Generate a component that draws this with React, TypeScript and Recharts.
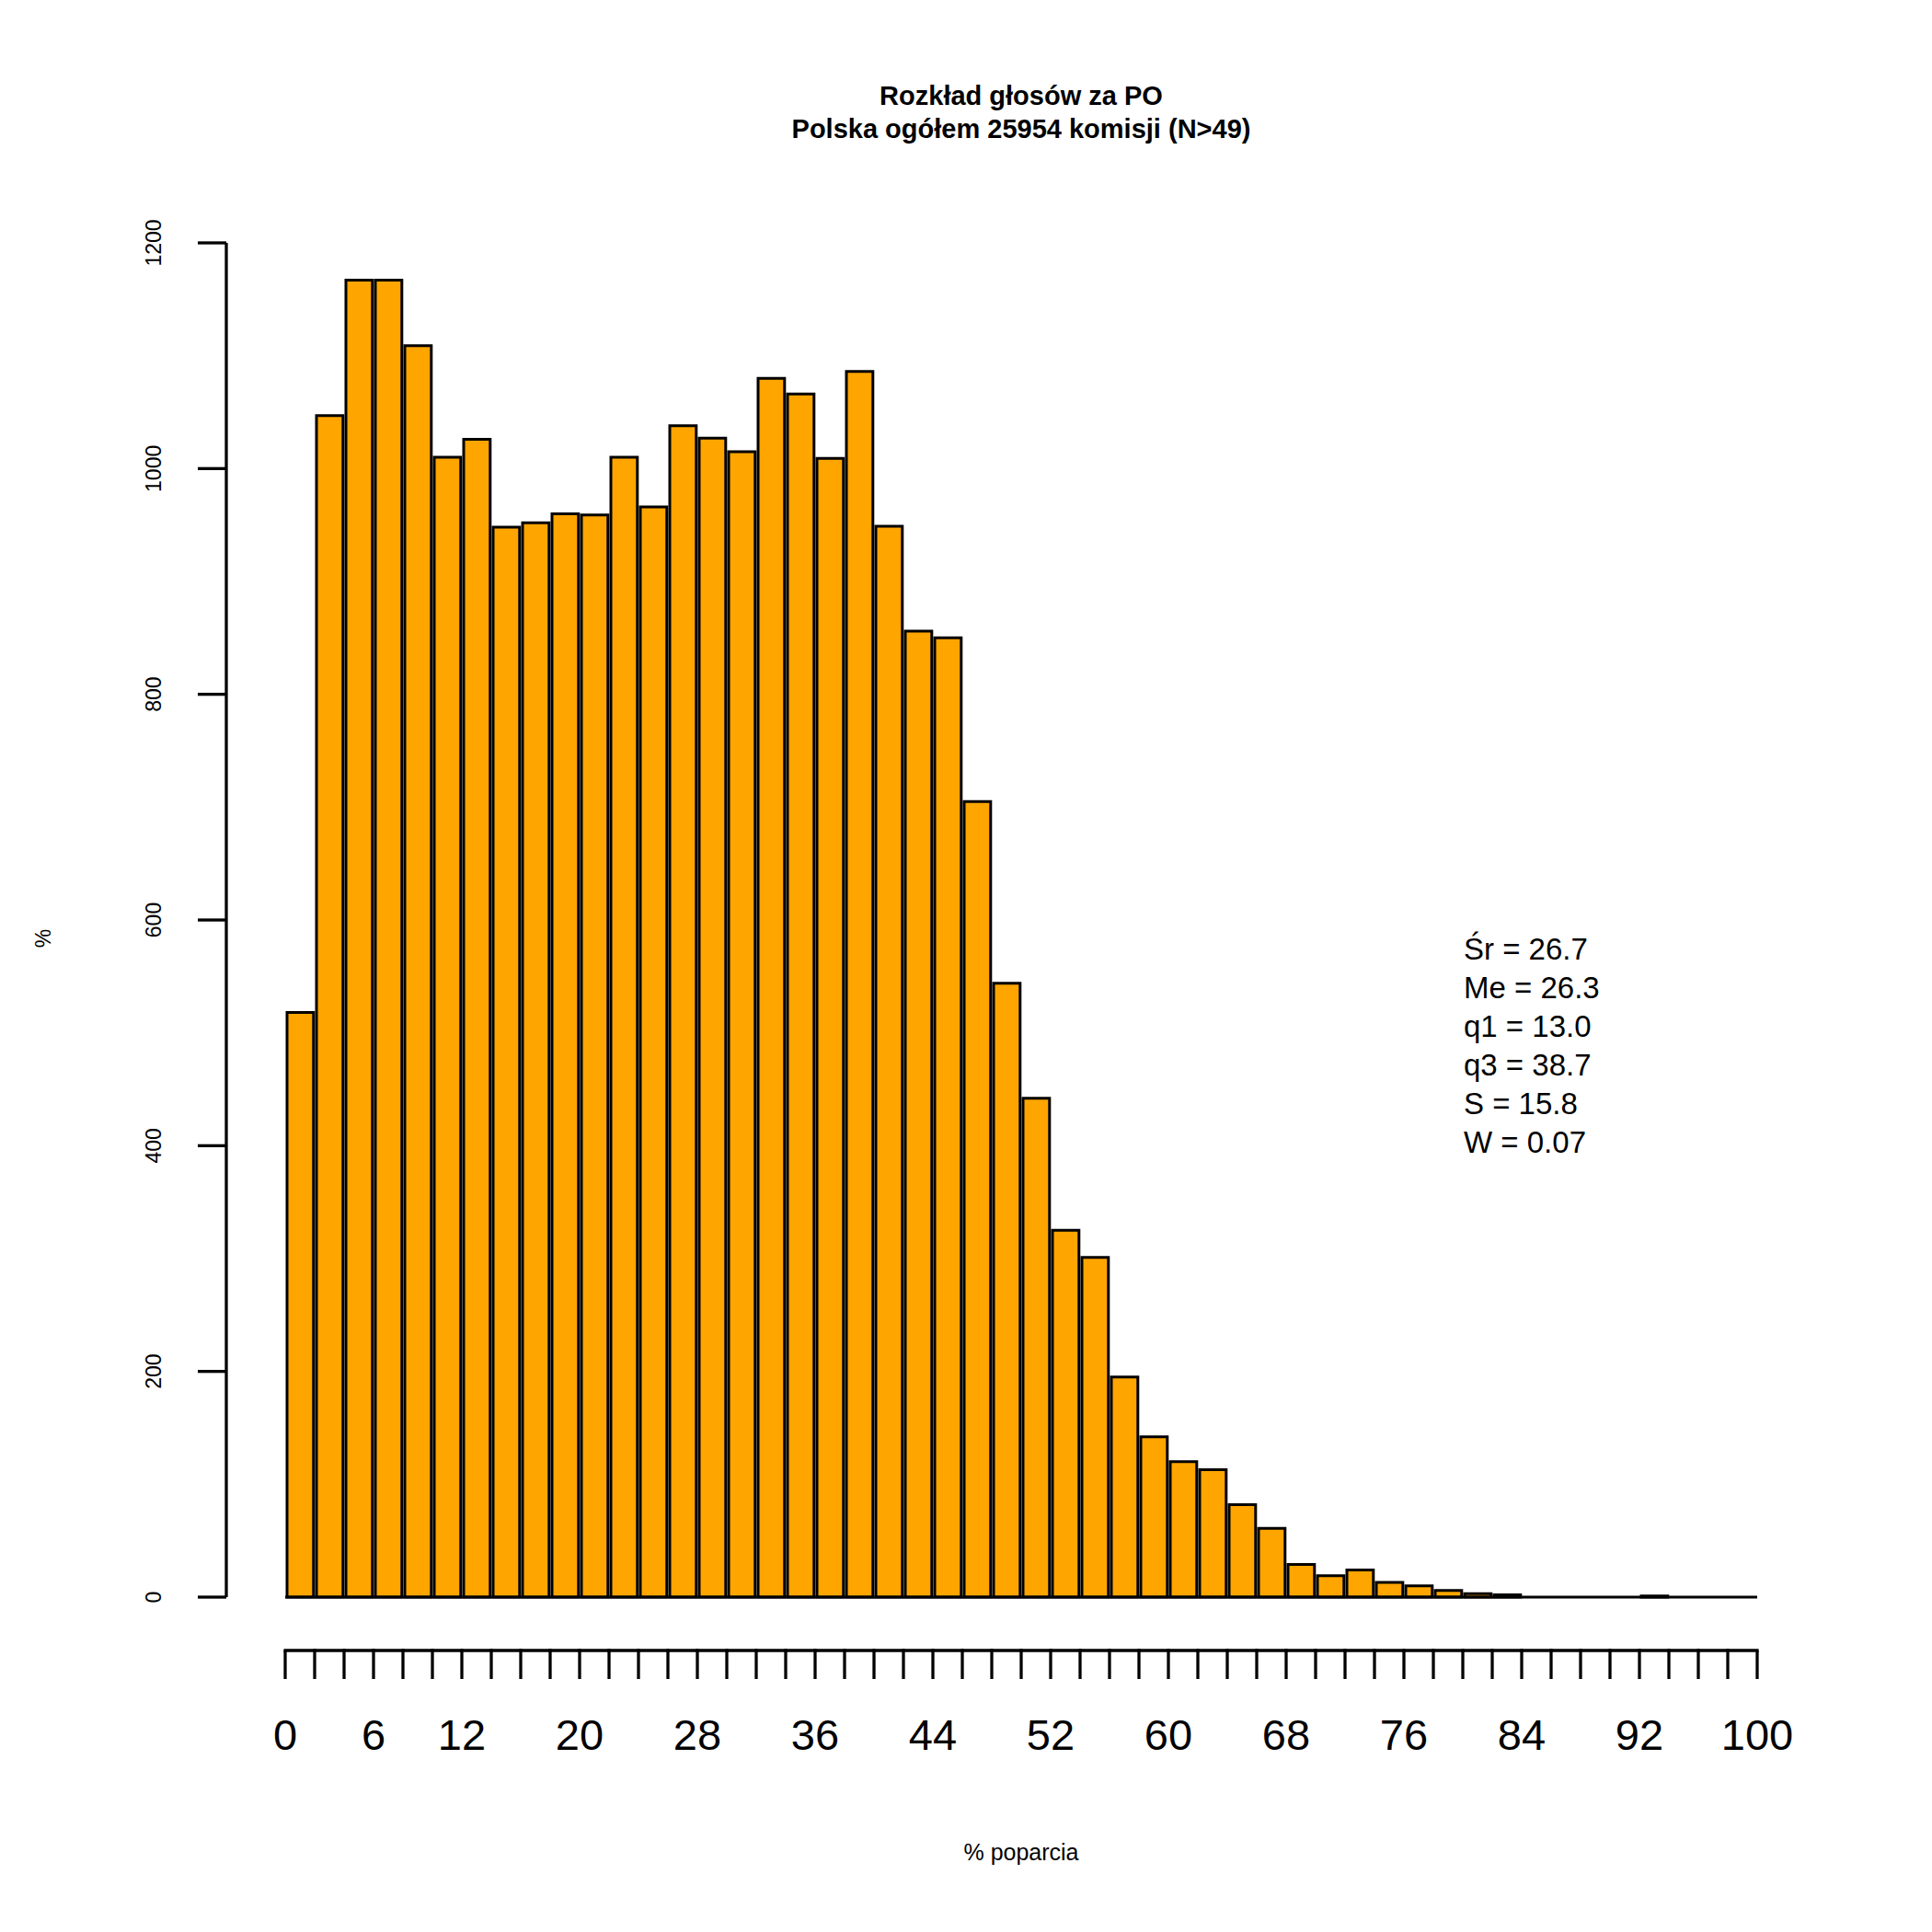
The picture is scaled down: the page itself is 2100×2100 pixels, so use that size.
import React from "react";
import { BarChart, Bar, XAxis, YAxis, ReferenceLine } from "recharts";

// histogram of PO vote share, 2-point bins from 0 to 100
const binStarts = [
  0, 2, 4, 6, 8, 10, 12, 14, 16, 18, 20, 22, 24, 26, 28, 30, 32, 34, 36, 38,
  40, 42, 44, 46, 48, 50, 52, 54, 56, 58, 60, 62, 64, 66, 68, 70, 72, 74, 76, 78,
  80, 82, 84, 86, 88, 90, 92, 94, 96, 98,
];
const counts = [
  518, 1047, 1167, 1167, 1109, 1010, 1026, 948, 952, 960, 959, 1010, 966, 1038, 1027, 1015, 1080, 1066, 1009, 1086,
  949, 856, 850, 705, 544, 442, 325, 301, 195, 142, 120, 113, 82, 61, 29, 19, 24, 13, 10, 6,
  3, 2, 0, 0, 0, 0, 1, 0, 0, 0,
];
const BIN = 2;
const xLabels = [0, 6, 12, 20, 28, 36, 44, 52, 60, 68, 76, 84, 92, 100];
const yTicks = [0, 200, 400, 600, 800, 1000, 1200];
const stats = ["Śr = 26.7", "Me = 26.3", "q1 = 13.0", "q3 = 38.7", "S = 15.8", "W = 0.07"];

const data = binStarts.map((s, i) => ({ mid: s + BIN / 2, count: counts[i] }));
const xEdges = [...binStarts, 100];

const W = 2100;
const H = 2100;
const FONT = "'Liberation Sans', Arial, Helvetica, sans-serif";
const X_DOMAIN: [number, number] = [-4, 104];
const PLOT_LEFT = 246;
const PLOT_RIGHT = 1974;
const PX_PER_UNIT = (PLOT_RIGHT - PLOT_LEFT) / (X_DOMAIN[1] - X_DOMAIN[0]);

function XTick(props: any) {
  const { x, y, payload } = props;
  const v = payload.value;
  return (
    <g>
      <line x1={x} x2={x} y1={y + 58} y2={y + 89} stroke="#000" strokeWidth={3.3} />
      {v < 100 && (
        <line x1={x - 1.6} x2={x + BIN * PX_PER_UNIT + 1.6} y1={y + 58} y2={y + 58} stroke="#000" strokeWidth={3.3} />
      )}
      {xLabels.includes(v) && (
        <text x={x} y={y + 166} textAnchor="middle" fontSize={47} fontFamily={FONT} fill="#000">
          {v}
        </text>
      )}
    </g>
  );
}

function YTick(props: any) {
  const { y, payload } = props;
  return (
    <text
      x={175}
      y={y}
      transform={`rotate(-90 175 ${y})`}
      textAnchor="middle"
      fontSize={23}
      fontFamily={FONT}
      fill="#000"
    >
      {payload.value}
    </text>
  );
}

export default function App() {
  return (
    <div style={{ position: "absolute", left: 0, top: 0, width: W, height: H, background: "#fff" }}>
      <BarChart
        width={W}
        height={H}
        data={data}
        margin={{ top: 264, right: W - PLOT_RIGHT, bottom: 164, left: 0 }}
      >
        <XAxis
          dataKey="mid"
          type="number"
          domain={X_DOMAIN}
          ticks={xEdges}
          interval={0}
          axisLine={false}
          tickLine={false}
          tickSize={0}
          tickMargin={0}
          height={200}
          tick={<XTick />}
        />
        <YAxis
          type="number"
          domain={[0, 1200]}
          ticks={yTicks}
          interval={0}
          width={PLOT_LEFT}
          axisLine={{ stroke: "#000", strokeWidth: 3.3 }}
          tickLine={{ stroke: "#000", strokeWidth: 3.3 }}
          tickSize={31}
          tick={<YTick />}
        />
        <Bar
          dataKey="count"
          fill="#FFA500"
          stroke="#000"
          strokeWidth={3}
          barSize={BIN * PX_PER_UNIT}
          isAnimationActive={false}
        />
        <ReferenceLine
          segment={[{ x: 0, y: 0 }, { x: 100, y: 0 }]}
          stroke="#000"
          strokeWidth={3}
        />
      </BarChart>
      <svg
        width={W}
        height={H}
        style={{ position: "absolute", left: 0, top: 0, pointerEvents: "none" }}
        fontFamily={FONT}
      >
        <text x={1110} y={114} textAnchor="middle" fontSize={29} fontWeight="bold">
          Rozkład głosów za PO
        </text>
        <text x={1110} y={150} textAnchor="middle" fontSize={29} fontWeight="bold">
          Polska ogółem 25954 komisji (N&gt;49)
        </text>
        <text x={1110} y={2022} textAnchor="middle" fontSize={25}>
          % poparcia
        </text>
        <text x={55} y={1020} transform="rotate(-90 55 1020)" textAnchor="middle" fontSize={23}>
          %
        </text>
        {stats.map((s, i) => (
          <text key={s} x={1591} y={1043 + i * 42} fontSize={33}>
            {s}
          </text>
        ))}
      </svg>
    </div>
  );
}
